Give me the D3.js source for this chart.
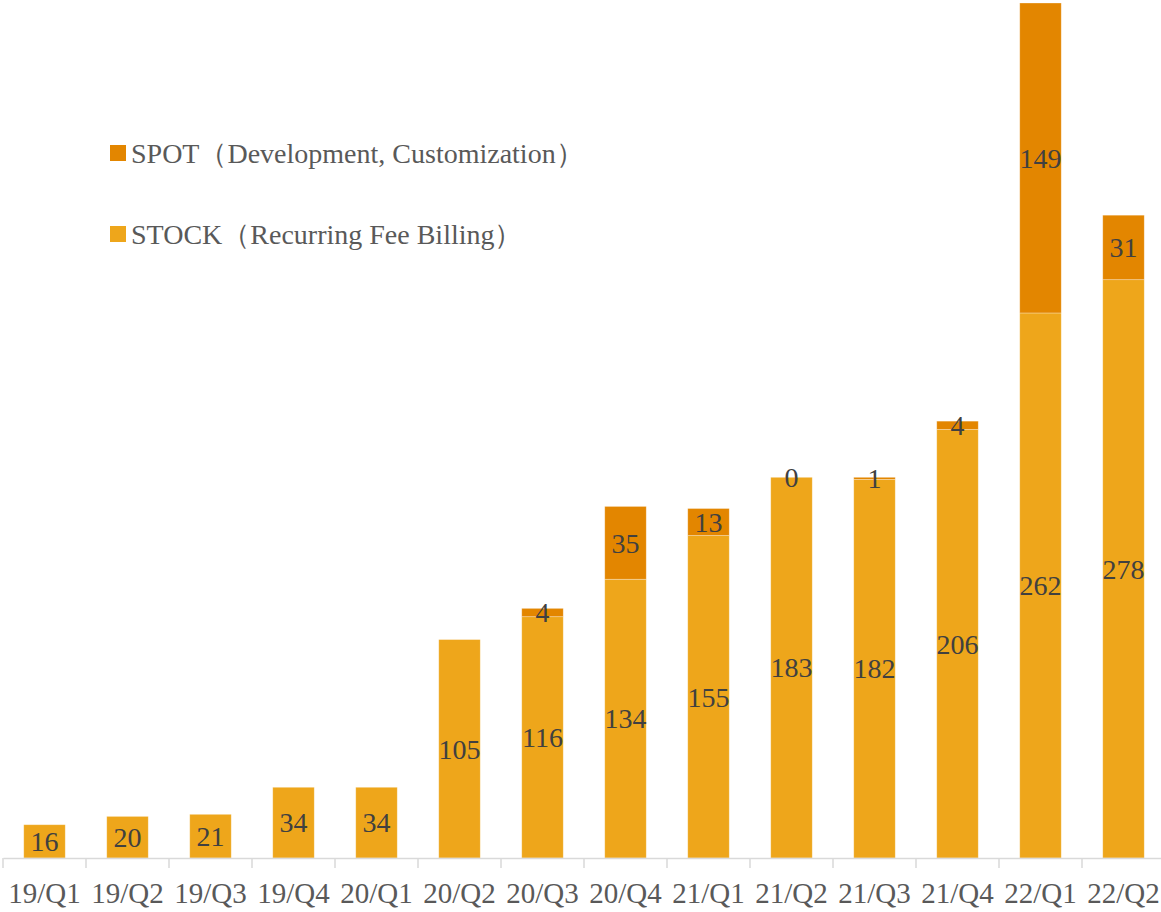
<!DOCTYPE html>
<html>
<head>
<meta charset="utf-8">
<script src="https://cdn.jsdelivr.net/npm/d3@7"></script>
<style>
  body { margin: 0; background: #fff; }
</style>
</head>
<body>
<div class="canvas"></div>
<script>
const quarters = ["19/Q1","19/Q2","19/Q3","19/Q4","20/Q1","20/Q2","20/Q3","20/Q4","21/Q1","21/Q2","21/Q3","21/Q4","22/Q1","22/Q2"];
const stock = [16, 20, 21, 34, 34, 105, 116, 134, 155, 183, 182, 206, 262, 278];
const spot = [null, null, null, null, null, null, 4, 35, 13, 0, 1, 4, 149, 31];
const seriesNames = ["SPOT（Development, Customization）", "STOCK（Recurring Fee Billing）"];

const width = 1161;
const height = 912;
const baseY = 858;
const colStock = "#EEA61B";
const colSpot = "#E38600";
const font = "'Liberation Serif', 'Times New Roman', Tinos, 'DejaVu Serif', serif";

const data = quarters.map((q, i) => ({ q: q, stock: stock[i], spot: spot[i] }));

const x = d3.scaleBand()
  .domain(quarters)
  .range([3, 1165])
  .paddingInner(0.5)
  .paddingOuter(0.25);

const y = d3.scaleLinear()
  .domain([0, 411])
  .range([baseY, 3]);

const svg = d3.select(".canvas").append("svg")
  .attr("width", width)
  .attr("height", height)
  .style("font-family", font);

// stock bars
svg.append("g").selectAll("rect")
  .data(data)
  .join("rect")
    .attr("x", d => x(d.q))
    .attr("y", d => y(d.stock))
    .attr("width", x.bandwidth())
    .attr("height", d => y(0) - y(d.stock))
    .attr("fill", colStock)
    .attr("stroke", "#fff")
    .attr("stroke-opacity", 0.4)
    .attr("stroke-width", 0.75);

// spot bars
svg.append("g").selectAll("rect")
  .data(data.filter(d => d.spot != null))
  .join("rect")
    .attr("x", d => x(d.q))
    .attr("y", d => y(d.stock + d.spot))
    .attr("width", x.bandwidth())
    .attr("height", d => y(d.stock) - y(d.stock + d.spot))
    .attr("fill", colSpot)
    .attr("stroke", "#fff")
    .attr("stroke-opacity", 0.4)
    .attr("stroke-width", 0.75);

// axis
const axis = svg.append("g")
  .attr("transform", "translate(0," + baseY + ")")
  .call(d3.axisBottom(x).tickSize(0).tickPadding(24));
axis.attr("font-family", null);
axis.select(".domain").attr("stroke", "#d9d9d9").attr("stroke-width", 1.5);
axis.selectAll("text")
  .attr("fill", "#595959")
  .style("font-family", font)
  .style("font-size", "29px");

const bounds = quarters.map(q => x(q) - x.step() * x.paddingInner() / 2);
bounds.push(x(quarters[quarters.length - 1]) + x.bandwidth() + x.step() * x.paddingInner() / 2);
axis.selectAll(".bound")
  .data(bounds)
  .join("line")
    .attr("class", "bound")
    .attr("x1", d => d).attr("x2", d => d)
    .attr("y1", 0).attr("y2", 10)
    .attr("stroke", "#d9d9d9")
    .attr("stroke-width", 1.5);

// value labels
const labels = svg.append("g")
  .attr("fill", "#404040")
  .attr("font-size", 28)
  .attr("text-anchor", "middle");

labels.selectAll(".ls")
  .data(data)
  .join("text")
    .attr("class", "ls")
    .attr("x", d => x(d.q) + x.bandwidth() / 2)
    .attr("y", d => y(d.stock / 2))
    .attr("dy", "0.35em")
    .text(d => d.stock);

labels.selectAll(".lp")
  .data(data.filter(d => d.spot != null))
  .join("text")
    .attr("class", "lp")
    .attr("x", d => x(d.q) + x.bandwidth() / 2)
    .attr("y", d => y(d.stock + d.spot / 2))
    .attr("dy", "0.35em")
    .text(d => d.spot);

// legend
const legend = svg.append("g").attr("transform", "translate(110,145)");
const legItems = legend.selectAll("g")
  .data([{ name: seriesNames[0], c: colSpot }, { name: seriesNames[1], c: colStock }])
  .join("g")
    .attr("transform", (d, i) => "translate(0," + i * 81 + ")");
legItems.append("rect")
  .attr("width", 16).attr("height", 16)
  .attr("fill", d => d.c);
legItems.append("text")
  .attr("x", 21)
  .attr("y", 8)
  .attr("dy", "0.35em")
  .attr("fill", "#595959")
  .attr("font-size", 28)
  .text(d => d.name);
</script>
</body>
</html>
